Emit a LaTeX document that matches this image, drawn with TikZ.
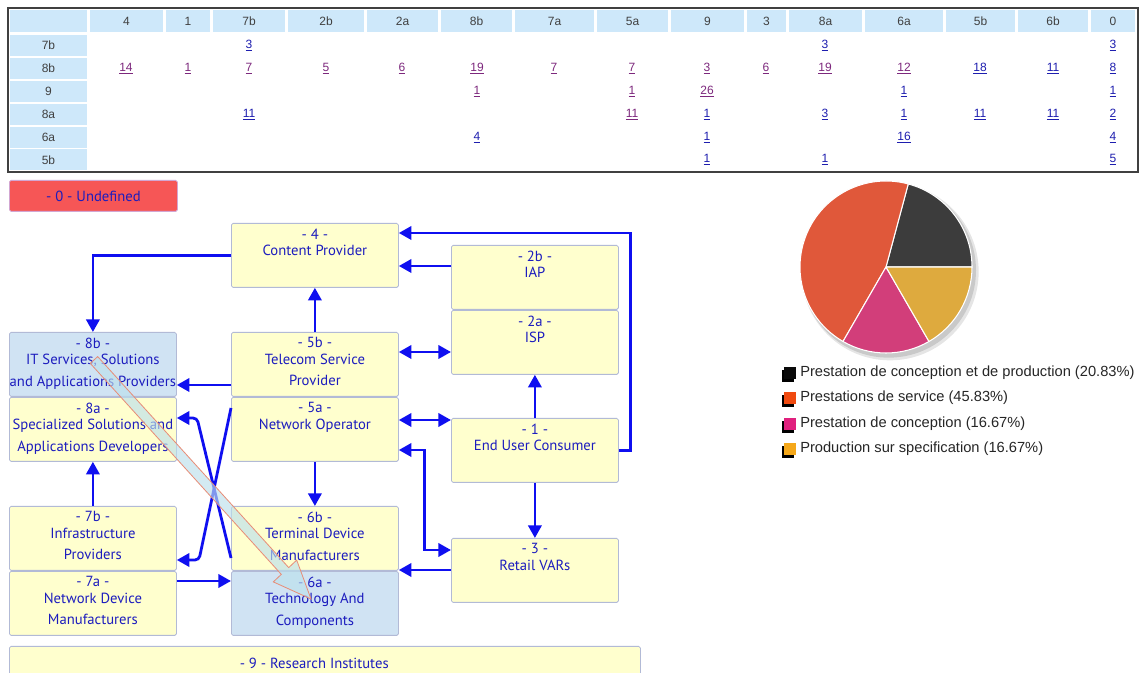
\documentclass[tikz,border=0pt]{standalone}
\usepackage{fontspec}
\setmainfont{Liberation Sans}
\newfontfamily\boxfont{PT Sans}
\usetikzlibrary{arrows.meta,shadows}
\definecolor{linkblue}{RGB}{30,30,175}
\definecolor{linkvisit}{RGB}{125,40,125}
\definecolor{cellblue}{RGB}{206,232,250}
\definecolor{boxyellow}{RGB}{255,255,206}
\definecolor{boxlblue}{RGB}{208,227,243}
\definecolor{boxedge}{RGB}{178,186,214}
\definecolor{boxtext}{RGB}{28,28,190}
\definecolor{flowblue}{RGB}{15,15,240}
\definecolor{undefred}{RGB}{246,86,86}
\definecolor{pieblk}{RGB}{60,60,60}
\definecolor{pieorg}{RGB}{224,88,58}
\definecolor{piepnk}{RGB}{210,62,122}
\definecolor{pieylw}{RGB}{222,170,62}
\definecolor{legblk}{RGB}{10,10,10}
\definecolor{legorg}{RGB}{240,74,16}
\definecolor{legpnk}{RGB}{224,32,126}
\definecolor{legylw}{RGB}{245,168,26}
\definecolor{hlfill}{RGB}{188,224,236}
\definecolor{hledge}{RGB}{232,140,118}
\tikzset{
  tabline/.style={draw=black!75, line width=0.8pt},
  hcell/.style={rectangle, fill=cellblue, minimum height=16.5pt, inner sep=0pt,
                font=\fontsize{9}{10}\selectfont, text=black!75},
  lnk/.style={font=\fontsize{9}{10}\selectfont, text=linkblue, inner sep=1pt},
  lnkv/.style={lnk, text=linkvisit},
  ybox/.style={rectangle, rounded corners=1.2pt, draw=boxedge, line width=0.6pt,
               fill=boxyellow, minimum width=125.25pt, minimum height=48pt,
               inner sep=0pt, anchor=north west},
  bbox/.style={ybox, fill=boxlblue},
  boxlabel/.style={anchor=north, align=center, inner sep=0pt, yshift=-4pt, text=boxtext,
                   font=\boxfont\fontsize{11}{12.2}\selectfont},
  flow/.style={-{Triangle[length=9.5pt,width=10pt]}, line width=2.1pt, flowblue},
  flow2/.style={flow, {Triangle[length=9.5pt,width=10pt]}-{Triangle[length=9.5pt,width=10pt]}},
  slice/.style={draw=white, line width=0.8pt, line join=round},
  legsq/.style={rectangle, minimum size=9pt, inner sep=0pt,
                drop shadow={shadow xshift=-1.6pt, shadow yshift=-2.2pt, fill=black, opacity=1}},
  legtext/.style={anchor=west, inner sep=0pt, text=black!85, font=\fontsize{11}{13}\selectfont},
  hilite/.style={fill=hlfill, fill opacity=0.65, draw=hledge, line width=0.6pt},
}
\begin{document}
\begin{tikzpicture}[x=0.75pt,y=-0.75pt]
\clip (0,0) rectangle (1140,673);
\fill[white] (0,0) rectangle (1140,673);

% -- cross table
\draw[tabline] (8,8) rectangle (1138,172);
\foreach \l/\r/\t [count=\k] in {10/87/{},90/163/4,166/210/1,213/285/7b,288/364/2b,367/438/2a,441/512/8b,515/594/7a,597/668/5a,671/744/9,747/786/3,789/862/8a,865/943/6a,946/1015/5b,1018/1088/6b,1091/1135/0}
  \node[hcell, minimum width={(\r-\l)*0.75pt}] (col\k) at ({(\l+\r)/2},21) {\t};
\foreach \t/\y in {7b/45.5,8b/68.5,9/91.5,8a/114.5,6a/137.5,5b/160}
  \node[hcell, minimum width=57.75pt, minimum height=15.75pt] (row\t) at (48.5,\y) {\t};

\foreach \x/\v/\s [count=\k] in {249/3/lnk,825/3/lnk,1113/3/lnk}
  \node[\s] (va\k) at (\x,45.5) {\underline{\v}};
\foreach \x/\v/\s [count=\k] in {126/14/lnkv,188/1/lnkv,249/7/lnkv,326/5/lnkv,402/6/lnkv,477/19/lnkv,554/7/lnkv,632/7/lnkv,707/3/lnkv,766/6/lnkv,825/19/lnkv,904/12/lnkv,980/18/lnk,1053/11/lnk,1113/8/lnk}
  \node[\s] (vb\k) at (\x,68.5) {\underline{\v}};
\foreach \x/\v/\s [count=\k] in {477/1/lnkv,632/1/lnkv,707/26/lnkv,904/1/lnk,1113/1/lnk}
  \node[\s] (vc\k) at (\x,91.5) {\underline{\v}};
\foreach \x/\v/\s [count=\k] in {249/11/lnk,632/11/lnkv,707/1/lnk,825/3/lnk,904/1/lnk,980/11/lnk,1053/11/lnk,1113/2/lnk}
  \node[\s] (vd\k) at (\x,114.5) {\underline{\v}};
\foreach \x/\v/\s [count=\k] in {477/4/lnk,707/1/lnk,904/16/lnk,1113/4/lnk}
  \node[\s] (ve\k) at (\x,137.5) {\underline{\v}};
\foreach \x/\v/\s [count=\k] in {707/1/lnk,825/1/lnk,1113/5/lnk}
  \node[\s] (vf\k) at (\x,160) {\underline{\v}};

% -- value chain boxes
\node[ybox, fill=undefred, draw=violet!35, minimum height=23.25pt, minimum width=126pt,
      label={[boxlabel, anchor=center, yshift=4pt]center:{- 0 - Undefined}}] (und) at (9,180) {};
\node[ybox, label={[boxlabel]north:{- 4 -\\Content Provider}}] (cp) at (231,223) {};
\node[ybox, label={[boxlabel]north:{- 2b -\\IAP}}] (iap) at (451,245) {};
\node[ybox, label={[boxlabel]north:{- 2a -\\ISP}}] (isp) at (451,310) {};
\node[bbox, label={[boxlabel]north:{- 8b -\\IT Services, Solutions\\[4.2pt]and Applications Providers}}] (its) at (9,332) {};
\node[ybox, label={[boxlabel]north:{- 5b -\\Telecom Service\\[4.2pt]Provider}}] (tsp) at (231,332) {};
\node[ybox, label={[boxlabel]north:{- 8a -\\Specialized Solutions and\\[4.2pt]Applications Developers}}] (ssd) at (9,397) {};
\node[ybox, label={[boxlabel]north:{- 5a -\\Network Operator}}] (nop) at (231,397) {};
\node[ybox, label={[boxlabel]north:{- 1 -\\End User Consumer}}] (euc) at (451,418) {};
\node[ybox, label={[boxlabel]north:{- 7b -\\Infrastructure\\[4.2pt]Providers}}] (inf) at (9,506) {};
\node[ybox, label={[boxlabel]north:{- 6b -\\Terminal Device\\[4.2pt]Manufacturers}}] (tdm) at (231,506) {};
\node[ybox, label={[boxlabel]north:{- 3 -\\Retail VARs}}] (rva) at (451,538) {};
\node[ybox, label={[boxlabel]north:{- 7a -\\Network Device\\[4.2pt]Manufacturers}}] (ndm) at (9,571) {};
\node[bbox, label={[boxlabel]north:{- 6a -\\Technology And\\[4.2pt]Components}}] (tac) at (231,571) {};
\node[ybox, minimum width=473.25pt, minimum height=30pt,
      label={[boxlabel, yshift=-4.5pt, xshift=-8pt]north:{- 9 - Research Institutes}}] (rin) at (9,646) {};

% -- flows
\draw[flow] (cp.west) -| (its.north);
\draw[flow] (tsp.north) -- (cp.south);
\draw[flow] (iap.west |- 0,266) -- (cp.east |- 0,266);
\draw[flow] (euc.east) -- ++(12,0) |- (cp.east |- 0,233);
\draw[flow2] (tsp.east |- 0,352) -- (isp.west |- 0,352);
\draw[flow] (euc.north) -- (isp.south);
\draw[flow2] (nop.east |- 0,420) -- (euc.west |- 0,420);
\draw[flow2] (nop.east |- 0,450) -- ++(26,0) |- (rva.west |- 0,550);
\draw[flow] (euc.south) -- (rva.north);
\draw[flow] (rva.west |- 0,570) -- (tac.east |- 0,570);
\draw[flow] (tsp.west |- 0,385) -- (its.east |- 0,385);
\draw[flow] (nop.south) -- (tdm.north);
\draw[flow] (inf.north) -- (ssd.south);
\draw[flow] (ndm.east |- 0,581) -- (tac.west |- 0,581);
\draw[flow, rounded corners=3pt] (nop.west |- 0,408) -- ++(-32,152) -- (inf.east |- 0,560);
\draw[flow, rounded corners=3pt] (tdm.west |- 0,558) -- ++(-34,-140) -- (ssd.east |- 0,418);

% selection marker 8b -> 6a
\filldraw[hilite] (97.7,356.6) -- (288.7,567.6) -- (296.7,560.1) -- (311,599)
  -- (273.3,581.9) -- (281.3,574.4) -- (90.3,363.4) -- cycle;

% -- pie
\coordinate (pc) at (886,267);
\fill[black, opacity=.10] ([xshift=3pt, yshift=-3.5pt]pc) circle[radius=66.5pt];
\fill[black, opacity=.12] ([xshift=2pt, yshift=-2.5pt]pc) circle[radius=65.5pt];
\filldraw[slice, fill=pieblk] (pc) -- ++(0:64.5pt) arc[start angle=0, end angle=75, radius=64.5pt] -- cycle;
\filldraw[slice, fill=pieorg] (pc) -- ++(75:64.5pt) arc[start angle=75, end angle=240, radius=64.5pt] -- cycle;
\filldraw[slice, fill=piepnk] (pc) -- ++(240:64.5pt) arc[start angle=240, end angle=300, radius=64.5pt] -- cycle;
\filldraw[slice, fill=pieylw] (pc) -- ++(300:64.5pt) arc[start angle=300, end angle=360, radius=64.5pt] -- cycle;

\foreach \c/\t/\y [count=\k] in {legblk/{Prestation de conception et de production (20.83\%)}/373,
    legorg/{Prestations de service (45.83\%)}/398,
    legpnk/{Prestation de conception (16.67\%)}/424,
    legylw/{Production sur specification (16.67\%)}/449}
{
  \node[legsq, fill=\c] (sq\k) at (790,\y) {};
  \node[legtext] (lg\k) at (800,\y) {\t};
}
\end{tikzpicture}
\end{document}
